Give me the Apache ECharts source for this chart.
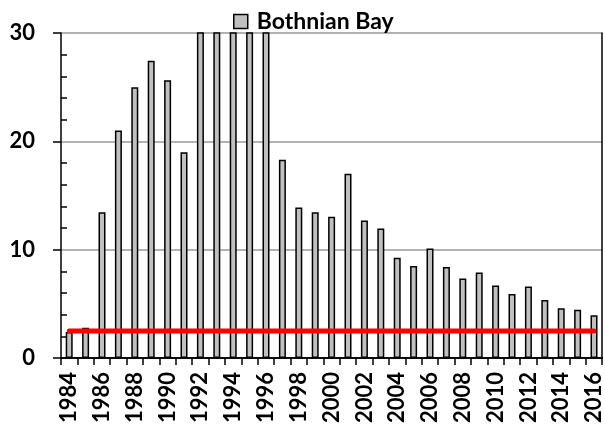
<!DOCTYPE html>
<html>
<head>
<meta charset="utf-8">
<script src="https://cdn.jsdelivr.net/npm/echarts@6/dist/echarts.min.js"></script>
<style>
  html, body { margin: 0; padding: 0; background: #fff; }
  #chart { width: 605px; height: 428px; }
</style>
</head>
<body>
<div id="chart"></div>
<script>
// years on the x axis
var years = [];
for (var y = 1984; y <= 2016; y++) years.push(String(y));

// Bothnian Bay values (1992-1996 run off the top of the chart)
var bayValues = [
  2.4, 2.8, 13.45, 21.0, 25.0, 27.45, 25.65, 19.0,
  34, 38, 42, 39, 35,
  18.3, 13.9, 13.45, 13.05, 17.0, 12.7, 11.95, 9.25, 8.5,
  10.1, 8.4, 7.35, 7.9, 6.7, 5.9, 6.6, 5.35, 4.6, 4.45, 3.95
]

// red reference level
var refLevel = 2.5
var refValues = years.map(function () { return refLevel })

var yTicks = { min: 0, max: 30, interval: 10 }

var font = 'Lato'

var chart = echarts.init(document.getElementById('chart'))
chart.setOption({
  animation: false,
  legend: {
    data: ['Bothnian Bay'],
    left: 228,
    top: 5,
    icon: 'rect',
    itemWidth: 14,
    itemHeight: 14,
    itemStyle: { borderColor: '#000', borderWidth: 1.5 },
    textStyle: { fontFamily: font, fontWeight: 'bold', fontSize: 23, color: '#000', padding: [0, 0, 0, 4] }
  },
  grid: { left: 61, top: 33, right: 2, bottom: 70 },
  xAxis: [
    {
      type: 'category',
      data: years,
      boundaryGap: true,
      axisLine: { lineStyle: { color: '#000', width: 1.5 } },
      axisTick: { show: true, interval: 0, length: 7, lineStyle: { color: '#000', width: 1.5 } },
      axisLabel: {
        interval: 1,
        rotate: 90,
        margin: 14,
        fontFamily: font,
        fontWeight: 'bold',
        fontSize: 22,
        color: '#000'
      }
    },
    {
      type: 'category',
      data: years,
      position: 'top',
      z: 5,
      axisLine: { lineStyle: { color: '#000', width: 1.5 } },
      axisTick: { show: false },
      axisLabel: { show: false }
    }
  ],
  yAxis: [
    {
      type: 'value',
      min: yTicks.min,
      max: yTicks.max,
      interval: yTicks.interval,
      axisLine: { show: true, lineStyle: { color: '#000', width: 1.5 } },
      axisTick: { show: true, length: 8, lineStyle: { color: '#000', width: 1.5 } },
      minorTick: { show: true, splitNumber: 5, length: -6, lineStyle: { color: '#000', width: 1.5 } },
      splitLine: { show: true, lineStyle: { color: '#999', width: 1.5 } },
      axisLabel: {
        margin: 26,
        fontFamily: font,
        fontWeight: 'bold',
        fontSize: 22,
        color: '#000'
      }
    },
    {
      type: 'value',
      position: 'right',
      min: yTicks.min,
      max: yTicks.max,
      interval: yTicks.interval,
      axisLine: { show: true, lineStyle: { color: '#000', width: 1.5 } },
      axisTick: { show: false },
      axisLabel: { show: false },
      splitLine: { show: false }
    }
  ],
  series: [
    {
      name: 'Bothnian Bay',
      type: 'bar',
      data: bayValues,
      barWidth: 7,
      clip: true,
      itemStyle: { color: '#c0c0c0', borderColor: '#000', borderWidth: 1.5 }
    },
    {
      name: 'reference',
      type: 'line',
      data: refValues,
      symbol: 'none',
      z: 4,
      lineStyle: { color: '#ff0000', width: 5, cap: 'round' }
    }
  ]
})
</script>
</body>
</html>
